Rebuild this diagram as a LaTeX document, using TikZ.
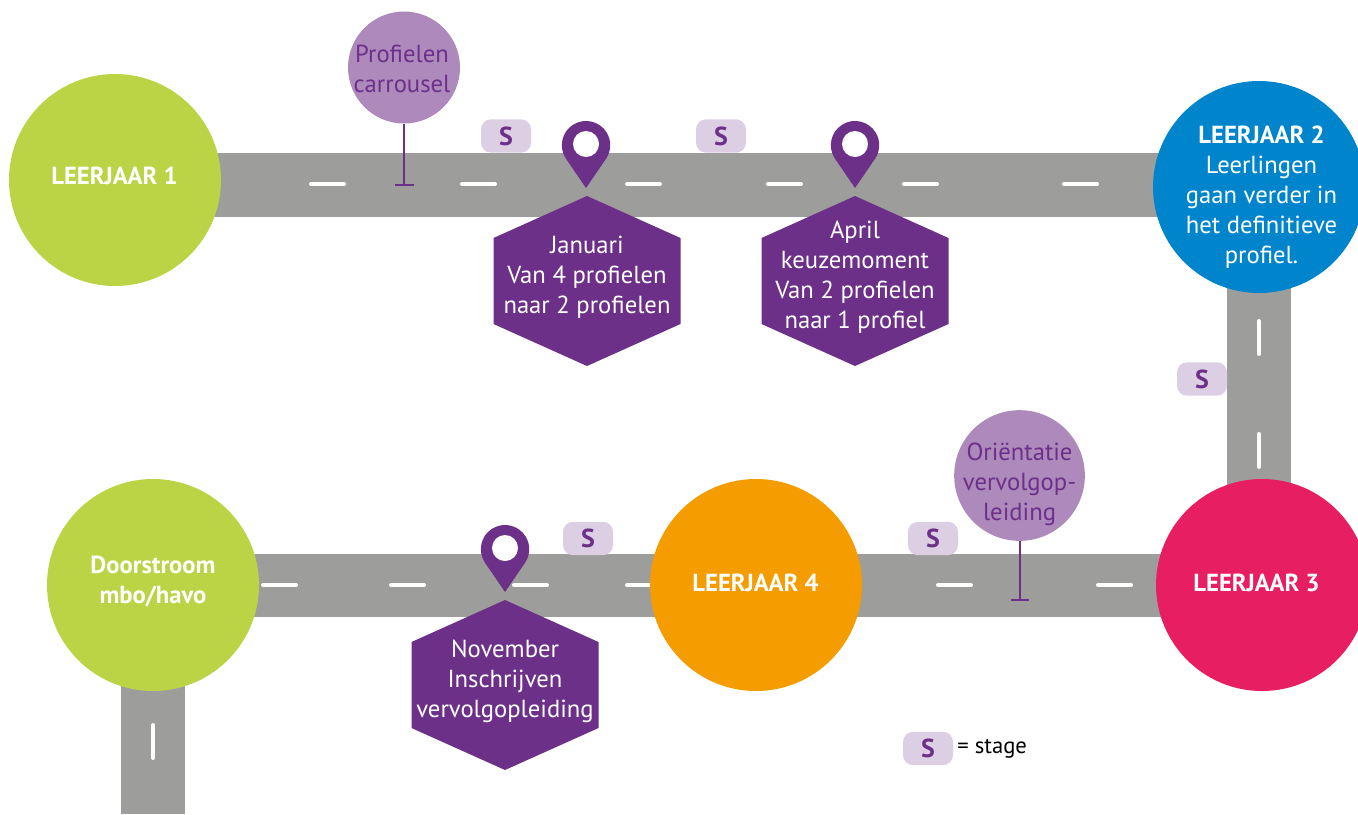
\documentclass[tikz,border=0pt]{standalone}
\usepackage{fontspec}
\setmainfont{PT Sans}
\definecolor{road}{HTML}{9D9D9C}
\definecolor{lime}{HTML}{BBD446}
\definecolor{bluec}{HTML}{0085CC}
\definecolor{pinkc}{HTML}{E81E62}
\definecolor{orangec}{HTML}{F59C00}
\definecolor{purp}{HTML}{6C3089}
\definecolor{lilac}{HTML}{AD89BC}
\definecolor{badge}{HTML}{DCCFE4}
\newcommand{\hexat}[3]{%
  \fill[purp] (#1,#2) -- ++(93.5,42) -- ++(0,86) -- ++(-93.5,42) -- ++(-93.5,-42) -- ++(0,-86) -- cycle;
  \node[hextext] at (#1,#2+81) {#3};}
\newcommand{\pinat}[3]{%
  \fill[purp] (#1,#3) -- (#1-20.5,#2+13) arc[start angle=148,end angle=392,radius=24.2] -- cycle;
  \fill[white] (#1,#2-1) circle[radius=13];}
\tikzset{
  x=0.75pt,y=-0.75pt,
  bigc/.style={circle,minimum size=159pt,inner sep=0pt},
  bigt/.style={align=center,text=white,inner sep=0pt,font=\fontsize{18.5}{22.5}\selectfont},
  hextext/.style={align=center,text=white,font=\fontsize{18.5}{22.5}\selectfont,inner sep=0pt},
  smallc/.style={circle,fill=lilac,inner sep=0pt},
  smallt/.style={text=purp,align=center,inner sep=0pt,font=\fontsize{18.5}{22.5}\selectfont},
  stagebox/.style={rounded corners=7.5pt,fill=badge,text=purp,minimum width=37.5pt,minimum height=25pt,inner sep=0pt,font=\fontsize{19.5}{20}\selectfont\bfseries},
  stem/.style={draw=purp,line width=1.5pt},
  roadline/.style={white,line width=3pt,line cap=round},
}
\begin{document}
\begin{tikzpicture}
\useasboundingbox (0,0) rectangle (1358,814);
% roads
\fill[road] (150,153) rectangle (1200,217);
\fill[road] (1227,250) rectangle (1291,530);
\fill[road] (200,554) rectangle (1200,617);
\fill[road] (121,650) rectangle (185,814);
% dashes
\foreach \a in {311,462,627,768,904,1064} \draw[roadline] (\a,184) -- (\a+33,184);
\foreach \a in {263,391,514,627,938,1098} \draw[roadline] (\a,585) -- (\a+33,585);
\foreach \a in {321,434} \draw[roadline] (1259,\a) -- (1259,\a+33);
\draw[roadline] (153,725) -- (153,758);
% small circles with stems
\node[smallc,minimum size=84pt] (prof) at (404,67.5) {};
\node[smallc,minimum size=98pt] (orie) at (1019.5,475.5) {};
\coordinate (profend) at (404,184);
\coordinate (orieend) at (1019.5,600);
\draw[stem] (prof.south) -- (profend);
\draw[stem] (orie.south) -- (orieend);
\draw[stem] (395,184.5) -- (414,184.5);
\draw[stem] (1011,600) -- (1029,600);
\node[smallt] (proft) at (402,69) {Profielen\\carrousel};
\node[smallt] (oriet) at (1019.5,484) {Oriëntatie\\vervolgop-\\leiding};
% big circles
\node[bigc,fill=lime] (l1) at (115,180) {};
\node[bigc,fill=bluec] (l2) at (1259,187) {};
\node[bigc,fill=pinkc] (l3) at (1262,585) {};
\node[bigc,fill=orangec] (l4) at (756,585) {};
\node[bigc,fill=lime] (door) at (153,585) {};
\node[bigt] (l1t) at (114.5,176) {\textbf{LEERJAAR 1}};
\node[bigt] (l2t) at (1261.5,197) {\textbf{LEERJAAR 2}\\Leerlingen\\gaan verder in\\het definitieve\\profiel.};
\node[bigt] (l3t) at (1256.5,583) {\textbf{LEERJAAR 3}};
\node[bigt] (l4t) at (755.5,583) {\textbf{LEERJAAR 4}};
\node[bigt] (doort) at (153,581) {\textbf{Doorstroom}\\\textbf{mbo/havo}};
% hexagons and pins
\hexat{587}{196}{Januari\\Van 4 profielen\\naar 2 profielen}
\hexat{855}{196}{April\\keuzemoment\\Van 2 profielen\\naar 1 profiel}
\hexat{505}{600}{November\\Inschrijven\\vervolgopleiding}
\pinat{586}{145}{188}
\pinat{855}{145}{188}
\pinat{505}{549}{592}
% badges
\node[stagebox] (s1) at (506,136) {S};
\node[stagebox] (s2) at (721,136) {S};
\node[stagebox] (s3) at (1202,379) {S};
\node[stagebox] (s4) at (588,538.5) {S};
\node[stagebox] (s5) at (933,538.5) {S};
\node[stagebox] (s6) at (928,748.5) {S};
\node[anchor=west,inner sep=0pt,font=\fontsize{17}{18}\selectfont] (leg) at (957,749) {= stage};
\end{tikzpicture}
\end{document}
